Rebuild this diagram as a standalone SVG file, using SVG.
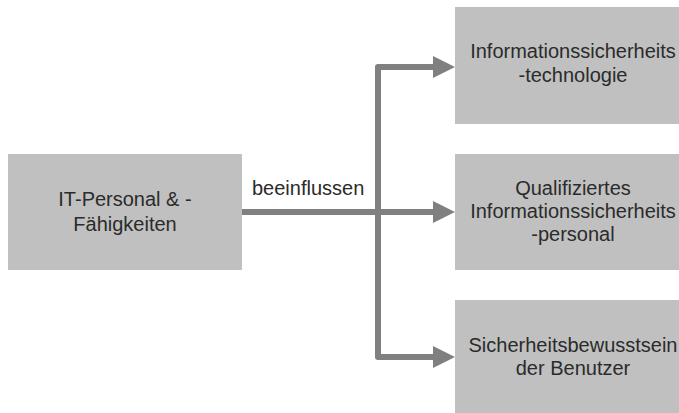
<svg xmlns="http://www.w3.org/2000/svg" width="679" height="413" viewBox="0 0 679 413">
<style>
.box{fill:#c0c0c0;}
.t{font-family:"Liberation Sans",Arial,sans-serif;font-size:20px;fill:#2b2b2b;text-anchor:middle;}
.lbl{font-family:"Liberation Sans",Arial,sans-serif;font-size:20px;fill:#2b2b2b;}
.ln{fill:none;stroke:#808080;stroke-width:6;stroke-linejoin:round;}
.ah{fill:#808080;}
</style>
<rect width="679" height="413" fill="#ffffff"/>
<g id="connectors">
<path class="ln" d="M241,212 H434"/>
<path class="ln" d="M434,67 H378 V357 H434"/>
<polygon class="ah" points="433,56 455,67 433,78"/>
<polygon class="ah" points="433,201 455,212 433,223"/>
<polygon class="ah" points="433,346 455,357 433,368"/>
<text class="lbl" x="252" y="195">beeinflussen</text>
</g>
<g id="node-it">
<rect class="box" x="8" y="154" width="234" height="116"/>
<text class="t" x="125" y="206">IT-Personal &amp; -</text>
<text class="t" x="125" y="231">Fähigkeiten</text>
</g>
<g id="node-tech">
<rect class="box" x="455" y="7" width="230" height="117"/>
<text class="t" x="573" y="58">Informationssicherheits</text>
<text class="t" x="573" y="82">-technologie</text>
</g>
<g id="node-personal">
<rect class="box" x="455" y="154" width="230" height="116"/>
<text class="t" x="573" y="195">Qualifiziertes</text>
<text class="t" x="573" y="218">Informationssicherheits</text>
<text class="t" x="573" y="241">-personal</text>
</g>
<g id="node-awareness">
<rect class="box" x="455" y="300" width="230" height="120"/>
<text class="t" x="573" y="352">Sicherheitsbewusstsein</text>
<text class="t" x="573" y="375">der Benutzer</text>
</g>
</svg>
